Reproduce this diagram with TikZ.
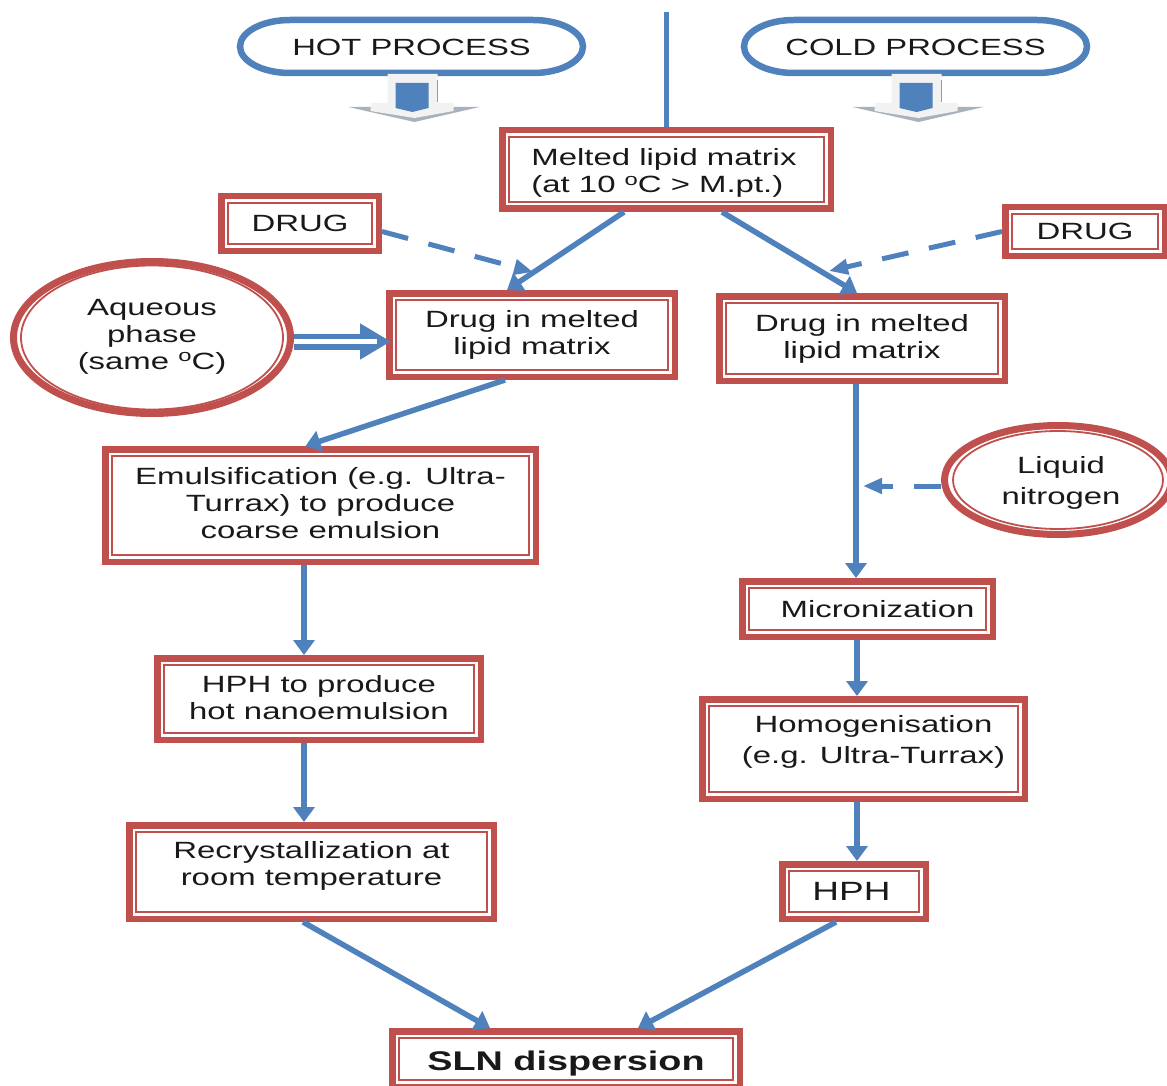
\documentclass[tikz,border=0pt]{standalone}
\usepackage{fontspec}
\setmainfont[FakeStretch=1.4]{Liberation Sans}
\usetikzlibrary{arrows.meta,calc,shapes.geometric}
\definecolor{rb}{HTML}{C0504D}
\definecolor{bl}{HTML}{4F81BD}
\definecolor{undergrey}{HTML}{A8B2BC}
\newcommand{\degO}{\raisebox{0.6ex}{\fontsize{17}{17}\selectfont o}}
\tikzset{
  x=1pt,y=-1pt,
  every node/.style={font=\fontsize{23.5}{27}\selectfont,text=black!90,align=center,inner sep=0pt,outer sep=0pt},
  rbox/.style 2 args={draw=rb,line width=6.5pt,outer sep=3.25pt,rectangle,minimum width=#1-6.5pt,minimum height=#2-6.5pt,
    path picture={\draw[rb,line width=1.8pt]
      ([shift={(6.5pt,6.5pt)}]path picture bounding box.south west) rectangle
      ([shift={(-6.5pt,-6.5pt)}]path picture bounding box.north east);}},
  rell/.style n args={4}{draw=rb,line width=7pt,outer sep=3.5pt,ellipse,minimum width=#1-7pt,minimum height=#2-7pt,
    path picture={\draw[rb,line width=1.8pt] (path picture bounding box.center) ellipse [x radius=#3,y radius=#4];}},
  pill/.style={minimum width=347pt,minimum height=59pt,font=\fontsize{23.4}{27}\selectfont},
  pillline/.style={draw=bl,line width=6.5pt},
  link/.style={draw=bl,line width=5.5pt},
  flow/.style={link,-{Triangle[length=15pt,width=21pt]}},
  dflow/.style={link,line width=5pt,dash pattern=on 27pt off 21pt,-{Triangle[length=19pt,width=15pt]}},
  blockarrow/.pic={
    \fill[undergrey] (-66,33) -- (65,33) -- (0,48) -- cycle;
    \fill[black!5] (-27,0) -- (23,0) -- (23,29) -- (39,29) -- (39,37) -- (0,44) -- (-44,37) -- (-44,29) -- (-27,29) -- cycle;
    \fill[bl] (-19,9) -- (14,9) -- (14,34) -- (-2,38) -- (-19,34) -- cycle;
    \draw[black!40,line width=1pt] (23,6) -- (23,28);
  }
}
\begin{document}
\begin{tikzpicture}
\useasboundingbox (0,0) rectangle (1167,1086);
\fill[white] (0,0) rectangle (1167,1086);

\node[pill,yshift=-1pt] (hot) at (411.5,46.5) {HOT PROCESS};
\node[pill,yshift=-1pt] (cold) at (915.5,46.5) {COLD PROCESS};
\foreach \p in {hot,cold}{
  \draw[pillline] ([shift={(52pt,-2pt)}]\p.north west) -- ([shift={(-52pt,-2pt)}]\p.north east)
     arc[start angle=-90,end angle=90,x radius=50,y radius=26.5]
     -- ([shift={(52pt,4pt)}]\p.south west)
     arc[start angle=90,end angle=270,x radius=50,y radius=26.5] -- cycle;
}
\pic at (414.5,74) {blockarrow};
\pic at (918.5,74) {blockarrow};

\coordinate (top) at (666.5,12);
\node[rbox={335pt}{85pt},label={[align=left,xshift=-2.5pt,yshift=-3.5pt]center:{Melted lipid matrix\\(at 10 \degO C > M.pt.)}}] (melted) at (666.5,169.5) {};
\node[rbox={164pt}{61pt}] (drugl) at (300,223.5) {DRUG};
\node[rbox={166pt}{55pt}] (drugr) at (1085,231.5) {DRUG};
\node[rbox={292pt}{90pt}] (mixl) at (532,335) {Drug in melted\\lipid matrix};
\node[rbox={292pt}{91pt}] (mixr) at (862,338.5) {Drug in melted\\lipid matrix};
\node[rell={284pt}{159pt}{131pt}{72pt},label={[yshift=1pt]center:{Aqueous\\phase\\(same \degO C)}}] (aq) at (152,337.5) {};
\node[rell={234pt}{116pt}{105pt}{49pt},label={[xshift=3pt,yshift=-3pt]center:{Liquid\\[4pt]nitrogen}}] (ln) at (1058,480) {};
\node[rbox={437pt}{119pt},label={[yshift=2pt]center:{Emulsification (e.g. Ultra-\\Turrax) to produce\\coarse emulsion}}] (emul) at (320.5,505.5) {};
\node[rbox={330pt}{88pt},label={[yshift=1pt]center:{HPH to produce\\hot nanoemulsion}}] (hphh) at (319,699) {};
\node[rbox={371pt}{100pt},label={[yshift=6pt]center:{Recrystallization at\\room temperature}}] (rec) at (311.5,872) {};
\node[rbox={257pt}{62pt},label={[xshift=10pt]center:{Micronization}}] (mic) at (867.5,609) {};
\node[rbox={329pt}{106pt},label={[xshift=10pt,yshift=7pt]center:{Homogenisation\\[4pt](e.g. Ultra-Turrax)}}] (hom) at (863.5,749) {};
\node[rbox={150pt}{61pt},label={[font=\fontsize{26.4}{27}\selectfont,xshift=-2.5pt]center:{HPH}}] (hph) at (854,891.5) {};
\node[rbox={354pt}{62pt},label={[font=\bfseries\fontsize{27}{27}\selectfont,yshift=-4.5pt]center:{SLN dispersion}}] (sln) at (566,1059) {};

\coordinate (j1) at (533,272);
\coordinate (j2) at (829,271);
\coordinate (j3) at (863,486);

\draw[link] (top) -- (melted.north);
\draw[flow] ([xshift=-42.5pt]melted.south) -- ([xshift=-25pt]mixl.north);
\draw[flow] ([xshift=55.5pt]melted.south) -- ([xshift=-5pt]mixr.north);
\draw[dflow] ([yshift=-8pt]drugl.east) -- (j1);
\draw[dflow] (drugr.west) -- (j2);
\draw[draw=bl,line width=16pt,-{Triangle[length=31pt,width=34pt]}] ([yshift=-4pt]aq.east) -- ([xshift=5pt,yshift=-6.5pt]mixl.west);
\draw[draw=white,line width=5pt] ([yshift=-4pt]aq.east) -- ([xshift=-9pt,yshift=-6.5pt]mixl.west);
\draw[flow] ([xshift=-27pt]mixl.south) -- ([xshift=-15pt]emul.north);
\draw[flow] ([xshift=-16.5pt]emul.south) -- ([xshift=-15pt]hphh.north);
\draw[flow] ([xshift=-15pt]hphh.south) -- ([xshift=-7.5pt]rec.north);
\draw[flow] ([xshift=-8.5pt]rec.south) -- ([xshift=-76pt]sln.north);
\draw[flow] ([xshift=-6pt]mixr.south) -- ([xshift=-11.5pt]mic.north);
\draw[dflow] ([yshift=-6pt]ln.west) -- (j3);
\draw[flow] ([xshift=-10.5pt]mic.south) -- ([xshift=-6.5pt]hom.north);
\draw[flow] ([xshift=-6.5pt]hom.south) -- ([xshift=3pt]hph.north);
\draw[flow] ([xshift=-18pt]hph.south) -- ([xshift=72pt]sln.north);
\end{tikzpicture}
\end{document}
